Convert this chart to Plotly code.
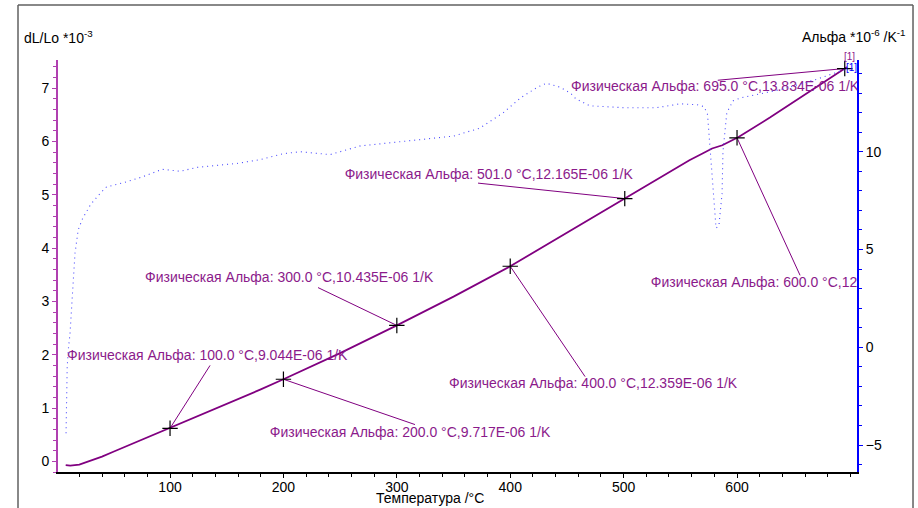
import plotly.graph_objects as go

# Thermal expansion curve dL/Lo (*10^-3) vs temperature
temp_dl = [8, 12, 20, 30, 40, 50, 60, 70, 80, 90, 100, 120, 140, 160, 180, 200,
           250, 300, 350, 400, 450, 501, 530, 558, 570, 578, 587, 594, 601, 629,
           660, 695, 697]
dl_lo = [-0.07, -0.08, -0.06, 0.01, 0.09, 0.18, 0.27, 0.35, 0.44, 0.53, 0.62,
         0.80, 0.98, 1.16, 1.35, 1.54, 2.03, 2.55, 3.09, 3.66, 4.29, 4.93, 5.30,
         5.65, 5.78, 5.87, 5.93, 6.00, 6.08, 6.45, 6.88, 7.37, 7.40]

# Technical alpha (*10^-6 /K) vs temperature
temp_alpha = [8.3, 8.8, 9.3, 10.5, 11.8, 13.6, 16.2, 19, 23, 30, 36.5, 44, 58,
              75, 93, 109, 124, 159, 180, 200, 215, 241, 268, 285, 320, 350,
              373, 394, 409, 424, 432, 444, 453, 458, 470, 500, 529, 550, 565,
              571, 574, 576, 579, 581.5, 584, 586.8, 587.6, 591, 596.5, 603,
              640, 670, 695, 697]
alpha = [-4.4, -2.7, -1.0, 0.0, 0.7, 2.4, 4.8, 6.0, 6.6, 7.3, 7.75, 8.2, 8.4,
         8.7, 9.1, 9.0, 9.2, 9.4, 9.6, 9.9, 10.0, 9.85, 10.3, 10.4, 10.6, 10.8,
         11.2, 12.0, 12.75, 13.3, 13.5, 13.3, 13.0, 12.7, 12.35, 12.25, 12.25,
         12.45, 12.4, 12.3, 11.9, 10.4, 7.85, 6.1, 6.2, 7.85, 10.0, 12.0, 12.6,
         12.75, 13.2, 13.7, 14.2, 14.3]

# Evaluated points: temperature, dL/Lo, physical alpha (*10^-6 1/K)
mark_temp = [100.0, 200.0, 300.0, 400.0, 501.0, 600.0, 695.0]
mark_dl = [0.62, 1.54, 2.55, 3.66, 4.93, 6.07, 7.37]
mark_alpha = [9.044, 9.717, 10.435, 12.359, 12.165, 12.483, 13.834]

x_ticks = [100, 200, 300, 400, 500, 600]
y_ticks = [0, 1, 2, 3, 4, 5, 6, 7]
y2_ticks = [-5, 0, 5, 10]

# Label placement (left edge of text) and leader-line end, in data units
label_pos = [(9.2, 1.97), (188, 0.525), (78, 3.43), (346, 1.44),
             (254, 5.37), (524, 3.34), (453.6, 7.02)]
leader_end = [(135.3, 1.80), (316, 0.69), (230.5, 3.26), (466, 1.59),
              (371.6, 5.22), (655.6, 3.49), (583, 7.15)]

PURPLE = "#800080"
LABEL = "#8B1A8B"
AXIS_PURPLE = "#B040B0"
BLUE = "#0000FF"
FONT = "Liberation Sans, Arial, sans-serif"

fig = go.Figure()

fig.add_trace(go.Scatter(
    x=temp_dl, y=dl_lo, mode="lines",
    line=dict(color=PURPLE, width=1.8),
    hoverinfo="skip", showlegend=False))

# Leader lines from each evaluated point to its label
for (mt, md), (ex, ey) in zip(zip(mark_temp, mark_dl), leader_end):
    fig.add_trace(go.Scatter(
        x=[mt, ex], y=[md, ey], mode="lines",
        line=dict(color=PURPLE, width=1),
        hoverinfo="skip", showlegend=False))

fig.add_trace(go.Scatter(
    x=mark_temp, y=mark_dl, mode="markers",
    marker=dict(symbol="cross-thin", size=11,
                line=dict(color="black", width=1.2)),
    hoverinfo="skip", showlegend=False))

for (mt, ma), (lx, ly) in zip(zip(mark_temp, mark_alpha), label_pos):
    txt = f"Физическая Альфа: {mt:.1f} °C,{ma:.3f}E-06 1/K"
    fig.add_trace(go.Scatter(
        x=[lx], y=[ly], mode="text", text=[txt],
        textposition="middle right",
        textfont=dict(family=FONT, size=14, color=LABEL),
        cliponaxis=True, hoverinfo="skip", showlegend=False))

fig.add_trace(go.Scatter(
    x=temp_alpha, y=alpha, mode="lines", yaxis="y2",
    line=dict(color="#4848FF", width=1.1, dash="1px,4px"),
    hoverinfo="skip", showlegend=False))

tickfont = dict(family=FONT, size=14, color="black")

fig.update_layout(
    width=918, height=508,
    margin=dict(l=58, r=61, t=60, b=36),
    paper_bgcolor="white", plot_bgcolor="white",
    font=dict(family=FONT, size=14, color="black"),
    showlegend=False,
    xaxis=dict(
        range=[1.2, 705.8], tickmode="array", tickvals=x_ticks,
        showgrid=False, zeroline=False, showline=True,
        linecolor="black", linewidth=2, mirror=False,
        ticks="outside", ticklen=4, tickcolor="black", tickwidth=1,
        ticklabelstandoff=-3,
        minor=dict(tick0=0, dtick=20, ticks="outside", ticklen=3,
                   tickcolor="black", showgrid=False),
        tickfont=tickfont),
    yaxis=dict(
        range=[-0.2, 7.53], tickmode="array", tickvals=y_ticks,
        showgrid=False, zeroline=False, showline=True,
        linecolor=AXIS_PURPLE, linewidth=2,
        ticks="outside", ticklen=4, tickcolor=AXIS_PURPLE, tickwidth=1,
        minor=dict(tick0=0, dtick=0.2, ticks="outside", ticklen=3,
                   tickcolor=AXIS_PURPLE, showgrid=False),
        tickfont=tickfont),
    yaxis2=dict(
        range=[-6.38, 14.69], overlaying="y", side="right",
        tickmode="array", tickvals=y2_ticks,
        showgrid=False, zeroline=False, showline=True,
        linecolor=BLUE, linewidth=2,
        ticks="outside", ticklen=4, tickcolor=BLUE, tickwidth=1,
        minor=dict(tick0=0, dtick=1, ticks="outside", ticklen=3,
                   tickcolor=BLUE, showgrid=False),
        tickfont=tickfont),
    annotations=[
        dict(text="dL/Lo *10<sup>-3</sup>", xref="paper", yref="paper",
             x=-0.045, y=1.056, xanchor="left", yanchor="middle",
             showarrow=False, font=dict(family=FONT, size=14, color="black")),
        dict(text="Альфа *10<sup>-6</sup> /K<sup>-1</sup>", xref="paper",
             yref="paper", x=1.0638, y=1.058, xanchor="right",
             yanchor="middle", showarrow=False,
             font=dict(family=FONT, size=14, color="black")),
        dict(text="Температура /°C", xref="paper", yref="paper",
             x=0.4656, y=-0.0625, xanchor="center", yanchor="middle",
             showarrow=False, font=dict(family=FONT, size=14, color="black")),
        dict(text="[1]", xref="paper", yref="paper", x=0.9912, y=1.0073,
             xanchor="center", yanchor="middle", showarrow=False,
             font=dict(family=FONT, size=10, color=LABEL)),
        dict(text="[1]", xref="paper", yref="paper", x=0.9925, y=0.983,
             xanchor="center", yanchor="middle", showarrow=False,
             font=dict(family=FONT, size=10, color=BLUE)),
    ],
    shapes=[
        dict(type="line", xref="paper", yref="paper",
             x0=-0.05006, x1=-0.05006, y0=1.1335, y1=-0.09,
             line=dict(color="#606060", width=1.5)),
        dict(type="line", xref="paper", yref="paper",
             x0=-0.05006, x1=1.0701, y0=1.1335, y1=1.1335,
             line=dict(color="#606060", width=1.5)),
        dict(type="line", xref="paper", yref="paper",
             x0=1.0701, x1=1.0701, y0=1.1335, y1=-0.09,
             line=dict(color="#606060", width=1.5)),
    ],
)

fig.write_html("out.html")
